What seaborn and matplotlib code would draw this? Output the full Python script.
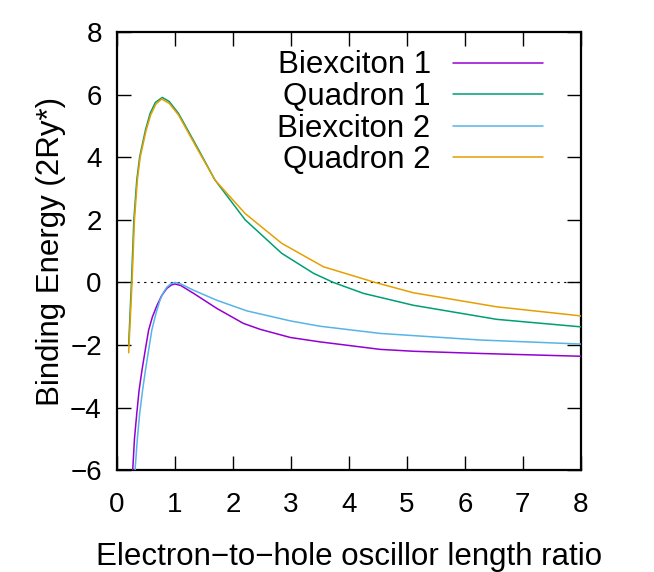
#!/usr/bin/env python3
"""Binding energy of biexcitons and quadrons vs electron-to-hole length ratio."""

import pandas as pd
import matplotlib
matplotlib.use("Agg")
import matplotlib.pyplot as plt
import seaborn as sns

# ============================== DATA ========================================
BIEX1_X = [0.25, 0.27, 0.30, 0.34, 0.38, 0.43, 0.49, 0.545, 0.61, 0.69, 0.77,
           0.86, 0.94, 1.0, 1.1, 1.32, 1.72, 2.18, 2.47, 2.99, 3.5, 4.54,
           5.11, 6.26, 8.0]
BIEX1_Y = [-6.8, -6.0, -5.0, -4.19, -3.45, -2.80, -2.12, -1.52, -1.10, -0.73,
           -0.42, -0.19, -0.08, -0.05, -0.10, -0.35, -0.83, -1.31, -1.50,
           -1.76, -1.90, -2.14, -2.20, -2.27, -2.36]

QUAD1_X = [0.2, 0.25, 0.29, 0.34, 0.39, 0.49, 0.57, 0.66, 0.78, 0.9, 1.06,
           1.38, 1.69, 2.21, 2.84, 3.39, 3.73, 4.25, 5.11, 6.55, 8.0]
QUAD1_Y = [-2.0, 0.07, 2.0, 3.27, 4.01, 4.87, 5.4, 5.75, 5.91, 5.78, 5.4,
           4.33, 3.27, 2.0, 0.93, 0.29, 0.0, -0.35, -0.73, -1.18, -1.42]

BIEX2_X = [0.29, 0.31, 0.35, 0.39, 0.44, 0.49, 0.55, 0.60, 0.67, 0.74, 0.80,
           0.86, 0.93, 1.0, 1.1, 1.32, 1.72, 2.24, 2.99, 3.5, 4.54, 6.26, 8.0]
BIEX2_Y = [-6.8, -6.0, -5.0, -4.19, -3.45, -2.80, -2.10, -1.52, -1.00,
           -0.57, -0.32, -0.15, -0.04, 0.0, -0.05, -0.25, -0.57, -0.91,
           -1.23, -1.40, -1.63, -1.84, -1.97]

QUAD2_X = [0.2, 0.26, 0.30, 0.35, 0.40, 0.50, 0.58, 0.67, 0.77, 0.9, 1.06,
           1.38, 1.69, 2.21, 2.84, 3.56, 4.45, 5.11, 6.55, 8.0]
QUAD2_Y = [-2.25, 0.07, 2.0, 3.27, 4.01, 4.85, 5.35, 5.7, 5.86, 5.72, 5.35,
           4.28, 3.27, 2.2, 1.25, 0.5, 0.0, -0.33, -0.78, -1.07]

SERIES = ["Biexciton 1", "Quadron 1", "Biexciton 2", "Quadron 2"]
COLORS = ["#9400d3", "#009e73", "#56b4e9", "#e69f00"]
XTICKS = list(range(0, 9))
YTICKS = list(range(-6, 9, 2))
# ============================================================================


def build_frame():
    parts = []
    for name, xs, ys in zip(
        SERIES,
        [BIEX1_X, QUAD1_X, BIEX2_X, QUAD2_X],
        [BIEX1_Y, QUAD1_Y, BIEX2_Y, QUAD2_Y],
    ):
        parts.append(pd.DataFrame({"ratio": xs, "energy": ys, "series": name}))
    return pd.concat(parts, ignore_index=True)


def main():
    sns.set_theme(style="ticks")
    plt.rcParams["font.family"] = ["Liberation Sans", "DejaVu Sans"]
    plt.rcParams["axes.unicode_minus"] = True
    plt.rcParams["text.color"] = "black"
    plt.rcParams["axes.labelcolor"] = "black"

    df = build_frame()

    fig = plt.figure(figsize=(6.54, 5.72), dpi=100)
    ax = fig.add_axes([0.179, 0.178, 0.709, 0.766])

    ax.axhline(0, color="black", lw=0.8, ls=(0, (2, 4)), zorder=1)

    sns.lineplot(
        data=df,
        x="ratio",
        y="energy",
        hue="series",
        hue_order=SERIES,
        palette=COLORS,
        estimator=None,
        sort=False,
        lw=1.1,
        ax=ax,
        zorder=3,
    )

    ax.set_xlim(0, 8)
    ax.set_ylim(-6, 8)
    ax.set_xticks(XTICKS)
    ax.set_yticks(YTICKS)
    ax.tick_params(
        direction="in", length=10, width=1.0, labelsize=20,
        top=True, right=True, colors="black",
    )
    ax.tick_params(axis="x", pad=16)
    ax.tick_params(axis="y", pad=11)
    for sp in ax.spines.values():
        sp.set_visible(True)
        sp.set_linewidth(1.6)
        sp.set_color("black")

    ax.set_xlabel("Electron\u2212to\u2212hole oscillor length ratio",
                  fontsize=22.5, labelpad=17)
    ax.set_ylabel("Binding Energy (2Ry*)", fontsize=22.5, labelpad=3)

    leg = ax.legend(
        loc="upper right",
        bbox_to_anchor=(0.973, 1.015),
        frameon=False,
        markerfirst=False,
        fontsize=22.5,
        handlelength=2.9,
        handletextpad=0.7,
        labelspacing=0.05,
        borderpad=0.3,
    )
    for line in leg.get_lines():
        line.set_linewidth(1.1)

    fig.savefig("out.png", dpi=100)
    plt.close(fig)


if __name__ == "__main__":
    main()
